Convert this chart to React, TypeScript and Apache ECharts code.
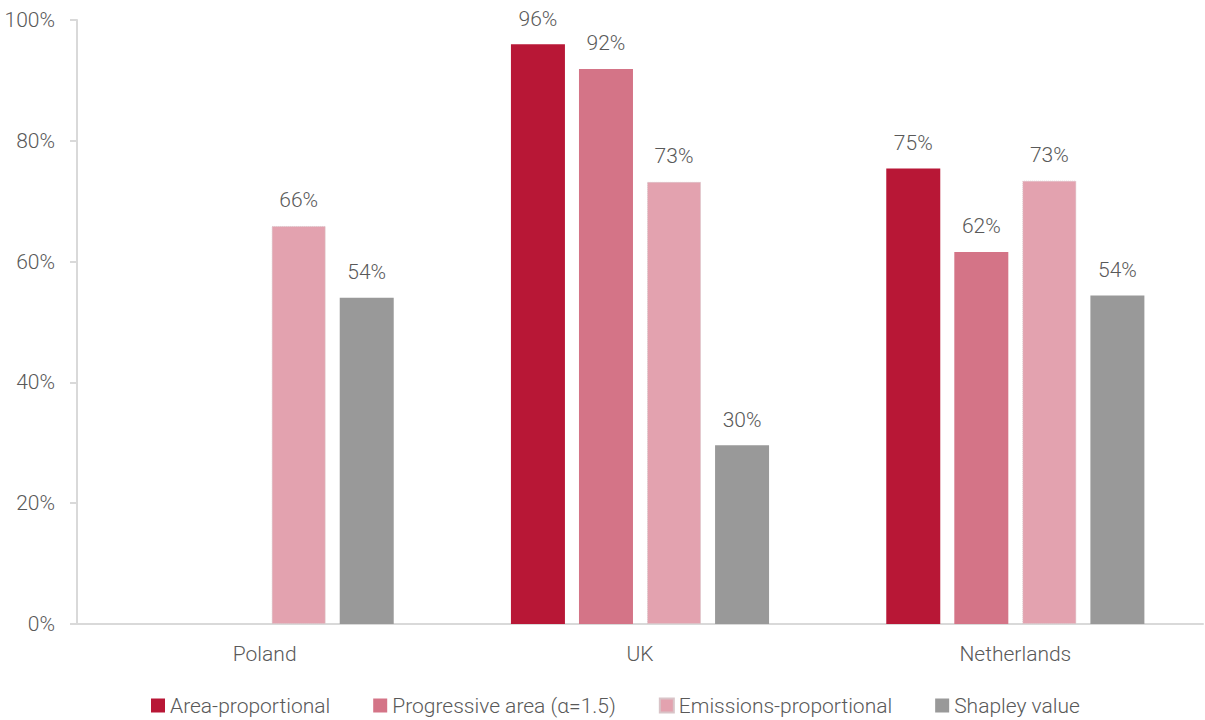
import React, { useEffect, useRef } from "react";
import * as echarts from "echarts";

const categories = ["Poland", "UK", "Netherlands"];
const areaProportional = [null, 96, 75.4];
const progressiveArea = [null, 91.9, 61.6];
const emissionsProportional = [65.9, 73.2, 73.4];
const shapleyValue = [54, 29.6, 54.4];
const yTicks = [0, 20, 40, 60, 80, 100];

const seriesNames = [
  "Area-proportional",
  "Progressive area (α=1.5)",
  "Emissions-proportional",
  "Shapley value",
];
const colors = ["#B81736", "#D47487", "#E3A2AF", "#999999"];

export default function App() {
  const ref = useRef<HTMLDivElement>(null);
  useEffect(() => {
    if (!ref.current) return;
    const chart = echarts.init(ref.current, null, { renderer: "svg" });
    const font = "Roboto";
    const textColor = "#595959";
    const fs = 21;
    const dataSets = [areaProportional, progressiveArea, emissionsProportional, shapleyValue];
    chart.setOption({
      animation: false,
      textStyle: { fontFamily: font },
      grid: { left: 77, right: 2, top: 20, bottom: 96, containLabel: false },
      legend: {
        bottom: -1,
        left: 146,
        itemWidth: 14,
        itemHeight: 14,
        itemGap: 43,
        icon: "rect",
        textStyle: { fontFamily: font, fontWeight: 300, fontSize: fs, color: textColor },
        data: seriesNames,
      },
      xAxis: {
        type: "category",
        data: categories,
        axisLine: { lineStyle: { color: "#D9D9D9", width: 2 } },
        axisTick: { show: false },
        axisLabel: { fontFamily: font, fontWeight: 300, fontSize: fs, color: textColor, margin: 19 },
      },
      yAxis: {
        type: "value",
        min: 0,
        max: 100,
        interval: 20,
        axisLine: { show: true, lineStyle: { color: "#D9D9D9", width: 2 } },
        axisTick: { show: true, length: 7, lineStyle: { color: "#D9D9D9", width: 2 } },
        splitLine: { show: false },
        axisLabel: {
          fontFamily: font,
          fontWeight: 300,
          fontSize: fs,
          color: textColor,
          margin: 22,
          formatter: (v: number) => (yTicks.includes(v) ? v + "%" : ""),
        },
      },
      series: seriesNames.map((name, i) => ({
        name,
        type: "bar",
        data: dataSets[i],
        barWidth: 54,
        barGap: "26%",
        itemStyle: {
          color: colors[i],
          borderColor: i === 2 ? "#D9C4C8" : colors[i],
          borderWidth: i === 2 ? 1 : 0,
          borderType: i === 2 ? "dotted" : "solid",
        },
        label: {
          show: true,
          position: "top",
          distance: 15,
          fontFamily: font,
          fontWeight: 300,
          fontSize: fs,
          color: textColor,
          formatter: (p: any) => (p.value == null ? "" : Math.round(p.value) + "%"),
        },
      })),
    });
    return () => chart.dispose();
  }, []);
  return (
    <div
      ref={ref}
      style={{ position: "fixed", left: 0, top: 0, width: 1205, height: 720, background: "#fff" }}
    />
  );
}
